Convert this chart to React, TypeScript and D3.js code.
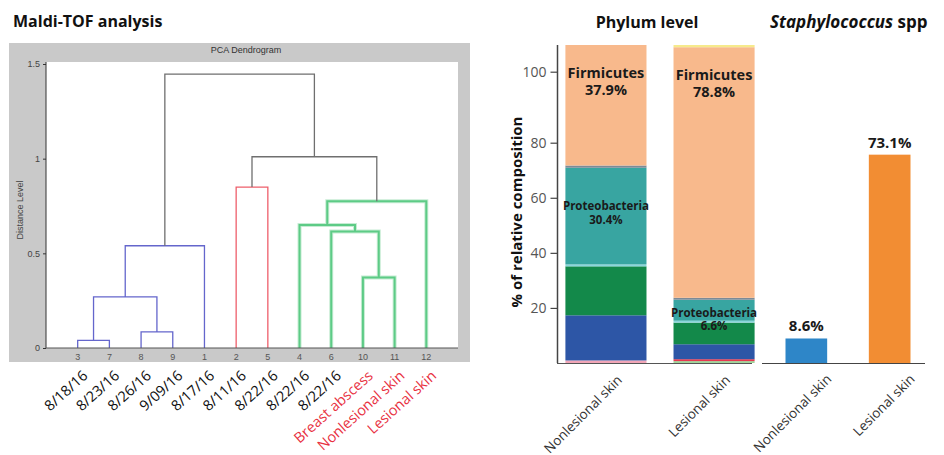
import React, { useEffect, useRef } from 'react'
import * as d3 from 'd3'

// Dendrogram (Maldi-TOF, PCA)
const dendroLeaves = ["3", "7", "8", "9", "1", "2", "5", "4", "6", "10", "11", "12"]
const dendroLabels = ["8/18/16", "8/23/16", "8/26/16", "9/09/16", "8/17/16", "8/11/16", "8/22/16",
  "8/22/16", "8/22/16", "Breast abscess", "Nonlesional skin", "Lesional skin"]
const dendroSample = [false, false, false, false, false, false, false, false, false, true, true, true]

const mergeIds = ["a", "b", "c", "d", "e", "f", "g", "h", "i", "j", "k"]
const mergeLeft = ["3", "8", "a", "c", "2", "10", "6", "4", "h", "e", "d"]
const mergeRight = ["7", "9", "b", "1", "5", "11", "f", "g", "12", "i", "j"]
const mergeHeight = [0.04, 0.085, 0.27, 0.54, 0.85, 0.373, 0.615, 0.65, 0.775, 1.01, 1.447]
const mergeCluster = ["blue", "blue", "blue", "blue", "red", "green", "green", "green", "green", "gray", "gray"]
const distanceTicks = [0, 0.5, 1, 1.5]

// Phylum level (stacked, bottom to top)
const phylumGroups = ["Nonlesional skin", "Lesional skin"]
const phylumKeys = ["minorA", "minorB", "minorC", "phylumBlue", "phylumGreen", "sepA", "Proteobacteria", "sepB", "Firmicutes", "minorD"]
const phylumNonlesional = [0, 0, 0.8, 14.2, 15.4, 0.6, 30.4, 0.7, 37.9, 0]
const phylumLesional = [0.6, 0.6, 0, 4.7, 6.8, 0.6, 6.6, 0.6, 78.8, 0.7]
const phylumTicks = [20, 40, 60, 80, 100]

// Staphylococcus spp
const staphGroups = ["Nonlesional skin", "Lesional skin"]
const staphValues = [8.6, 73.1]

const clusterColor = { blue: "#6466cc", red: "#ee5f6b", green: "#5dcb86", gray: "#6f6f6f" }
const phylumColor = {
  minorA: "#9fd49a", minorB: "#e8384f", minorC: "#f2a6b8", phylumBlue: "#2d56a6", phylumGreen: "#13894a",
  sepA: "#8ad6dc", Proteobacteria: "#38a5a1", sepB: "#7d8a96", Firmicutes: "#f8b98c", minorD: "#f6ea8c",
}
const staphColor = ["#2e86c8", "#f28d33"]

const FONT = "'Open Sans', 'Noto Sans', sans-serif"
const MATLAB_FONT = "'Liberation Sans', Arial, sans-serif"

const App = () => {
  const ref = useRef(null)

  useEffect(() => {
    const svg = d3.select(ref.current)
    svg.selectAll("*").remove()

    // ---------- Maldi-TOF dendrogram ----------
    svg.append("text")
      .attr("x", 13).attr("y", 27)
      .style("font-family", FONT).style("font-size", "16px").style("font-weight", 700)
      .attr("fill", "#111")
      .text("Maldi-TOF analysis")

    svg.append("rect")
      .attr("x", 9).attr("y", 43).attr("width", 461).attr("height", 319)
      .attr("fill", "#c9c9c9")

    const plot = { left: 46, right: 458, top: 62, bottom: 348 }
    svg.append("rect")
      .attr("x", plot.left).attr("y", plot.top)
      .attr("width", plot.right - plot.left).attr("height", plot.bottom - plot.top)
      .attr("fill", "#fff")

    svg.append("text")
      .attr("x", 246).attr("y", 53)
      .attr("text-anchor", "middle")
      .style("font-family", MATLAB_FONT).style("font-size", "9px")
      .attr("fill", "#333")
      .text("PCA Dendrogram")

    const xLeaf = d3.scalePoint()
      .domain(dendroLeaves)
      .range([plot.left, plot.right])
      .padding(1)

    const yDist = d3.scaleLinear()
      .domain([0, 1.5])
      .range([plot.bottom, 64])

    const nodes = {}
    dendroLeaves.forEach(id => { nodes[id] = { x: xLeaf(id), h: 0 } })
    mergeIds.forEach((id, i) => {
      const l = nodes[mergeLeft[i]], r = nodes[mergeRight[i]]
      nodes[id] = { x: (l.x + r.x) / 2, h: mergeHeight[i] }
    })

    const linkPath = i => {
      const l = nodes[mergeLeft[i]], r = nodes[mergeRight[i]]
      const y = yDist(mergeHeight[i])
      return `M${l.x},${yDist(l.h)}V${y}H${r.x}V${yDist(r.h)}`
    }

    const links = svg.append("g").attr("fill", "none")
    // soft halo for the green cluster
    links.selectAll("path.halo")
      .data(mergeIds.map((d, i) => i).filter(i => mergeCluster[i] === "green"))
      .join("path")
      .attr("class", "halo")
      .attr("d", linkPath)
      .attr("stroke", "#c6ecd3")
      .attr("stroke-width", 4)
    links.selectAll("path.link")
      .data(mergeIds.map((d, i) => i))
      .join("path")
      .attr("class", "link")
      .attr("d", linkPath)
      .attr("stroke", i => clusterColor[mergeCluster[i]])
      .attr("stroke-width", i => mergeCluster[i] === "green" ? 2 : 1.3)

    const yAxis = svg.append("g")
      .attr("transform", `translate(${plot.left},0)`)
      .call(d3.axisLeft(yDist).tickValues(distanceTicks).tickSize(3).tickFormat(d => String(d)))
    yAxis.select(".domain").attr("stroke", "#333").attr("d", `M0,${plot.top}V${plot.bottom}`)
    yAxis.selectAll(".tick line").attr("stroke", "#333")
    yAxis.selectAll(".tick text")
      .style("font-family", MATLAB_FONT).style("font-size", "9px").attr("fill", "#444")

    svg.append("line")
      .attr("x1", plot.left).attr("x2", plot.right)
      .attr("y1", plot.bottom).attr("y2", plot.bottom)
      .attr("stroke", "#555")

    svg.append("text")
      .attr("transform", `translate(23,${(plot.top + plot.bottom) / 2 + 5}) rotate(-90)`)
      .attr("text-anchor", "middle")
      .style("font-family", MATLAB_FONT).style("font-size", "9px")
      .attr("fill", "#444")
      .text("Distance Level")

    svg.append("g").selectAll("text")
      .data(dendroLeaves)
      .join("text")
      .attr("x", d => xLeaf(d)).attr("y", 360)
      .attr("text-anchor", "middle")
      .style("font-family", MATLAB_FONT).style("font-size", "9px")
      .attr("fill", "#555")
      .text(d => d)

    svg.append("g").selectAll("text")
      .data(dendroLabels)
      .join("text")
      .attr("transform", (d, i) => `translate(${xLeaf(dendroLeaves[i]) + 11},377) rotate(-42)`)
      .attr("text-anchor", "end")
      .style("font-family", FONT).style("font-size", "14.5px")
      .attr("fill", (d, i) => dendroSample[i] ? "#e8313f" : "#111")
      .text(d => d)

    // ---------- Phylum level ----------
    const phylumX = d3.scaleBand()
      .domain(phylumGroups)
      .range([560, 760])
      .paddingInner(0.25)
      .paddingOuter(0.05)

    const phylumY = d3.scaleLinear().domain([0, 100]).range([363, 45])
    // the printed axis is not evenly spaced; follow its tick positions
    const phylumAxisY = d3.scaleLinear().domain([0, 80, 100]).range([363, 142.7, 71.7])

    svg.append("text")
      .attr("x", 647).attr("y", 28)
      .attr("text-anchor", "middle")
      .style("font-family", FONT).style("font-size", "16px").style("font-weight", 700)
      .attr("fill", "#111")
      .text("Phylum level")

    const rows = phylumKeys.map((k, i) => ({ key: k, "Nonlesional skin": phylumNonlesional[i], "Lesional skin": phylumLesional[i] }))
    const stackData = phylumGroups.map(g => {
      const o = { group: g }
      rows.forEach(r => { o[r.key] = r[g] })
      return o
    })
    const series = d3.stack().keys(phylumKeys)(stackData)

    svg.append("g").selectAll("g")
      .data(series)
      .join("g")
      .attr("fill", s => phylumColor[s.key])
      .selectAll("rect")
      .data(s => s)
      .join("rect")
      .attr("x", d => phylumX(d.data.group))
      .attr("width", phylumX.bandwidth())
      .attr("y", d => phylumY(d[1]))
      .attr("height", d => phylumY(d[0]) - phylumY(d[1]))

    const pAxis = svg.append("g")
      .attr("transform", "translate(557.5,0)")
      .call(d3.axisLeft(phylumAxisY).tickValues(phylumTicks).tickSize(7).tickPadding(4))
    pAxis.select(".domain").attr("stroke", "#444").attr("stroke-width", 1.5).attr("d", "M0,45V363")
    pAxis.selectAll(".tick line").attr("stroke", "#444").attr("stroke-width", 1.2)
    pAxis.selectAll(".tick text")
      .style("font-family", FONT).style("font-size", "14px").attr("fill", "#555")

    svg.append("line")
      .attr("x1", 557).attr("x2", 752)
      .attr("y1", 363.5).attr("y2", 363.5)
      .attr("stroke", "#555").attr("stroke-width", 1.2)

    svg.append("text")
      .attr("transform", "translate(522,212) rotate(-90)")
      .attr("text-anchor", "middle")
      .style("font-family", FONT).style("font-size", "15px").style("font-weight", 700)
      .attr("fill", "#111")
      .text("% of relative composition")

    // in-bar labels
    const barLabel = (group, key, value, size, lineGap) => {
      const s = series.find(d => d.key === key)
      const seg = s[phylumGroups.indexOf(group)]
      return { group, key, value, size, lineGap, seg }
    }
    const inBar = [
      barLabel("Nonlesional skin", "Firmicutes", phylumNonlesional[8], 14.5, 17),
      barLabel("Lesional skin", "Firmicutes", phylumLesional[8], 14.5, 17),
      barLabel("Nonlesional skin", "Proteobacteria", phylumNonlesional[6], 11.5, 14),
      barLabel("Lesional skin", "Proteobacteria", phylumLesional[6], 11.5, 13),
    ]
    const labelG = svg.append("g")
      .style("font-family", FONT).style("font-weight", 700)
      .attr("fill", "#1a1a1a").attr("text-anchor", "middle")
    inBar.forEach(l => {
      const cx = phylumX(l.group) + phylumX.bandwidth() / 2
      const top = l.key === "Firmicutes"
        ? phylumY(l.seg[1]) + 33
        : l.group === "Lesional skin" ? phylumY(l.seg[1]) + 17 : phylumY(l.seg[1]) + 42
      const t = labelG.append("text").style("font-size", `${l.size}px`)
      t.append("tspan").attr("x", cx).attr("y", top).text(l.key)
      t.append("tspan").attr("x", cx).attr("y", top + l.lineGap).text(`${l.value}%`)
    })

    svg.append("g").selectAll("text")
      .data(phylumGroups)
      .join("text")
      .attr("transform", d => `translate(${phylumX(d) + phylumX.bandwidth() / 2 + 17},381) rotate(-45)`)
      .attr("text-anchor", "end")
      .style("font-family", FONT).style("font-size", "13.5px")
      .attr("fill", "#333")
      .text(d => d)

    // ---------- Staphylococcus spp ----------
    const staphX = d3.scaleBand()
      .domain(staphGroups)
      .range([773, 923])
      .paddingInner(0.5)
      .paddingOuter(0.15)
    const staphY = d3.scaleLinear().domain([0, 100]).range([363, 78])

    const st = svg.append("text")
      .attr("x", 770).attr("y", 28)
      .style("font-family", FONT).style("font-size", "17px").style("font-weight", 700)
      .attr("fill", "#111")
    st.append("tspan").style("font-style", "italic").text("Staphylococcus")
    st.append("tspan").text(" spp")

    svg.append("g").selectAll("rect")
      .data(staphValues)
      .join("rect")
      .attr("x", (d, i) => staphX(staphGroups[i]))
      .attr("width", staphX.bandwidth())
      .attr("y", d => staphY(d))
      .attr("height", d => staphY(0) - staphY(d))
      .attr("fill", (d, i) => staphColor[i])

    svg.append("line")
      .attr("x1", 762).attr("x2", 925)
      .attr("y1", 363.5).attr("y2", 363.5)
      .attr("stroke", "#444").attr("stroke-width", 1.2)

    svg.append("g").selectAll("text")
      .data(staphValues)
      .join("text")
      .attr("x", (d, i) => staphX(staphGroups[i]) + staphX.bandwidth() / 2)
      .attr("y", d => staphY(d) - 7)
      .attr("text-anchor", "middle")
      .style("font-family", FONT).style("font-size", "15px").style("font-weight", 700)
      .attr("fill", "#1a1a1a")
      .text(d => `${d}%`)

    svg.append("g").selectAll("text")
      .data(staphGroups)
      .join("text")
      .attr("transform", d => `translate(${staphX(d) + staphX.bandwidth() / 2 + 26},380) rotate(-45)`)
      .attr("text-anchor", "end")
      .style("font-family", FONT).style("font-size", "13.5px")
      .attr("fill", "#333")
      .text(d => d)
  }, [])

  return (
    <svg ref={ref} width={944} height={455}
      style={{ position: "absolute", left: 0, top: 0, background: "#fff" }} />
  )
}

export default App
